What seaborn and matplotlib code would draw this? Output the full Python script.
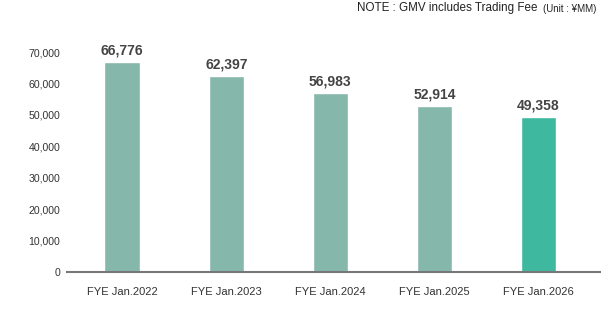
import matplotlib
matplotlib.use("Agg")
import matplotlib.pyplot as plt
import seaborn as sns
import pandas as pd

categories = ["FYE Jan.2022", "FYE Jan.2023", "FYE Jan.2024", "FYE Jan.2025", "FYE Jan.2026"]
values = [66776, 62397, 56983, 52914, 49358]
yticks = [0, 10000, 20000, 30000, 40000, 50000, 60000, 70000]

sns.set_theme(style="white")
plt.rcParams['font.family'] = ['Liberation Sans', 'DejaVu Sans']

df = pd.DataFrame({"cat": categories, "val": values})
palette = ["#86b7ab"] * 4 + ["#3fb8a0"]

fig = plt.figure(figsize=(6.01, 3.24), dpi=100)
ax = fig.add_axes([0.1115, 0.1605, 0.8885, 0.679])
sns.barplot(data=df, x="cat", y="val", hue="cat", palette=palette, legend=False,
            width=0.34, ax=ax, saturation=1)
ax.set_xlim(-0.53, 4.6)
ax.set_ylim(0, 70000)
ax.set_yticks(yticks)
ax.set_yticklabels([f"{v:,}" for v in yticks], fontsize=7.6, color="#333333")
ax.tick_params(axis="y", length=0, pad=5)
ax.tick_params(axis="x", length=0, pad=11, labelsize=8, labelcolor="#333333")
ax.set_xlabel("")
ax.set_ylabel("")
for s in ["top", "right", "left"]:
    ax.spines[s].set_visible(False)
ax.spines["bottom"].set_color("#777777")
ax.spines["bottom"].set_linewidth(1.5)

for i, v in enumerate(values):
    ax.annotate(f"{v:,}", (i, v), xytext=(0, 3), textcoords="offset points",
                ha="center", va="bottom", fontsize=10, fontweight="bold",
                color="#444444", annotation_clip=False)

fig.text(0.895, 0.975, "NOTE : GMV includes Trading Fee", ha="right", va="center",
         fontsize=8.4, color="#222222")
fig.text(0.993, 0.972, "(Unit : ¥MM)", ha="right", va="center", fontsize=7, color="#222222")

fig.savefig("out.png", dpi=100)
